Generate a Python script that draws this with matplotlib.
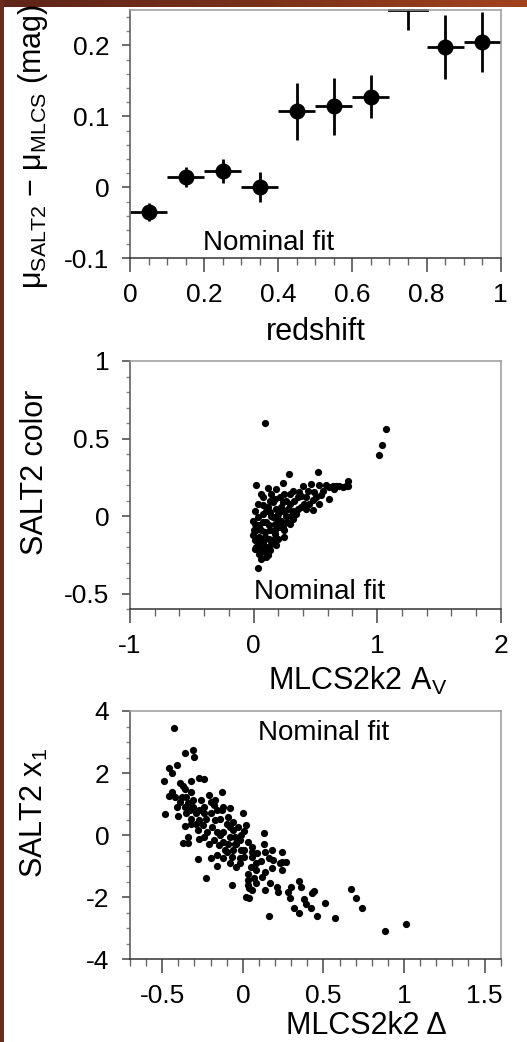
import matplotlib
matplotlib.use('Agg')
import matplotlib.pyplot as plt
import numpy as np
from matplotlib.ticker import MultipleLocator, FuncFormatter
from matplotlib.colors import LinearSegmentedColormap

plt.rcParams['font.family'] = ['Liberation Sans', 'DejaVu Sans']
plt.rcParams['mathtext.fontset'] = 'custom'
plt.rcParams['mathtext.rm'] = 'Liberation Sans'
plt.rcParams['mathtext.it'] = 'Liberation Sans:italic'
plt.rcParams['axes.unicode_minus'] = False

#panel 1: binned distance modulus difference vs redshift
z_bin = [0.05, 0.15, 0.25, 0.35, 0.45, 0.55, 0.65, 0.75, 0.85, 0.95]
z_halfwidth = [0.05] * 10
dmu = [-0.035, 0.014, 0.023, 0.001, 0.107, 0.114, 0.128, 0.272, 0.198, 0.205]
dmu_err = [0.013, 0.014, 0.017, 0.021, 0.040, 0.040, 0.030, 0.050, 0.045, 0.042]

#panel 2: MLCS2k2 A_V vs SALT2 color
av = [0.089, 1.071, 1.039, 1.018, 0.035, 0.520, 0.285, 0.767, 0.748, 0.614,
      0.022, 0.062, 0.116, 0.237, 0.183, 0.398, 0.466, 0.533, 0.587, 0.641,
      0.694, 0.721, 0.546, 0.479, 0.479, 0.412, 0.358, 0.345, 0.318, 0.291,
      0.250, 0.237, 0.183, 0.116, 0.075, 0.008, 0.000, 0.008, 0.075, 0.129,
      0.210, 0.264, 0.371, 0.439, 0.493, 0.654, 0.762, 0.425, 0.452, 0.385,
      0.291, 0.318, 0.264, 0.223, 0.250, 0.210, 0.170, 0.156, 0.102, 0.048,
      0.022, -0.005, 0.008, 0.035, 0.075, 0.116, 0.156, 0.183, 0.143, 0.102,
      0.062, 0.089, 0.129, 0.170, 0.075, 0.048, 0.035, 0.129, 0.089, -0.005,
      0.022, 0.102, 0.196, 0.237, 0.291, 0.331, 0.385, 0.506, 0.560, 0.614,
      0.668, 0.533, 0.425, 0.358, 0.277, 0.223, 0.143, 0.170, 0.250, 0.318,
      0.075, 0.035, 0.237, 0.196, 0.143, 0.062, 0.102, 0.008, 0.269, 0.304,
      0.156, 0.196, 0.124, 0.089, 0.048, 0.124, 0.075, 0.048, 0.170, 0.129]
color = [0.598, 0.560, 0.457, 0.395, -0.331, 0.282, 0.271, 0.226, 0.197, 0.111,
         0.201, 0.143, 0.179, 0.214, 0.173, 0.197, 0.207, 0.201, 0.201, 0.197,
         0.197, 0.186, 0.137, 0.105, 0.041, 0.079, 0.122, 0.015, 0.036, -0.049,
         -0.092, 0.036, -0.188, -0.252, -0.209, -0.156, -0.092, 0.032, 0.075, 0.100,
         0.122, 0.100, 0.154, 0.165, 0.154, 0.175, 0.197, 0.122, 0.079, 0.058,
         0.079, -0.017, 0.004, -0.028, -0.135, -0.071, -0.113, -0.156, -0.199, -0.241,
         -0.199, -0.124, -0.049, -0.006, 0.015, 0.058, 0.090, 0.047, 0.004, -0.038,
         -0.092, -0.135, -0.092, -0.049, -0.038, -0.135, -0.167, -0.220, -0.231, -0.028,
         -0.092, 0.036, 0.015, 0.090, 0.143, 0.100, 0.132, 0.122, 0.165, 0.186,
         0.197, 0.079, 0.047, 0.047, 0.047, 0.058, 0.143, 0.111, 0.143, 0.165,
         0.122, 0.079, -0.071, -0.145, -0.177, -0.274, -0.263, -0.209, -0.038, 0.004,
         -0.006, -0.017, -0.060, -0.103, -0.060, -0.145, -0.167, -0.199, -0.092, 0.026]

#panel 3: MLCS2k2 Delta vs SALT2 x1
delta = [-0.43, -0.36, -0.31, -0.30, -0.46, -0.44, -0.41, -0.49, -0.48, -0.46,
         -0.44, -0.41, -0.40, -0.39, -0.37, -0.36, -0.32, -0.27, -0.24, -0.36,
         -0.32, -0.37, -0.34, -0.34, -0.28, -0.23, -0.20, -0.16, -0.07, -0.13,
         -0.17, -0.21, -0.08, 0.00, 0.02, 0.01, 0.13, 0.13, 0.18, 0.24,
         0.27, 0.24, 0.18, 0.14, 0.16, 0.17, 0.14, 0.21, 0.22, 0.28,
         0.30, 0.29, 0.32, 0.35, 0.36, 0.35, 0.38, 0.39, 0.42, 0.43,
         0.44, 0.46, 0.51, 0.57, 0.67, 0.70, 0.74, 0.88, 1.01, 0.03,
         0.04, 0.02, 0.04, 0.06, 0.03, 0.07, 0.08, 0.03, 0.08, 0.09,
         0.06, 0.11, 0.16, 0.06, 0.01, -0.02, -0.04, -0.02, -0.08, -0.12,
         -0.10, -0.06, -0.04, 0.03, -0.05, -0.03, -0.09, -0.13, -0.14, -0.18,
         -0.20, -0.24, -0.26, -0.23, -0.27, -0.29, -0.31, -0.34, -0.33, -0.36,
         -0.38, -0.35, -0.32, -0.31, -0.28, -0.27, -0.24, -0.21, -0.18, -0.16,
         -0.19, -0.25, -0.17, -0.14, -0.12, -0.09, -0.08, -0.06, -0.05, -0.01,
         -0.12, -0.15, -0.11, -0.16, -0.07, -0.01, 0.05, 0.12, -0.02, 0.01,
         -0.06, -0.10, -0.22, -0.29, -0.32, -0.35, -0.39, -0.42, -0.27, -0.24,
         -0.20, -0.16, -0.12, -0.08, 0.14, 0.06, 0.08, 0.19, 0.23, 0.24]
x1 = [3.44, 2.65, 2.74, 2.51, 2.15, 2.01, 2.26, 1.73, 0.68, 1.26,
      1.39, 0.91, 0.61, 1.69, 1.58, 1.50, 1.74, 1.85, 1.82, 0.30,
      0.35, -0.24, -0.24, -0.05, -0.76, -1.39, -0.75, -0.98, -1.60, 1.39,
      1.12, 1.30, 0.88, 0.70, 0.33, 0.14, 0.07, -0.30, -0.48, -0.53,
      -0.88, -1.12, -1.06, -1.18, -2.62, -1.53, -1.76, -1.66, -1.82, -1.84,
      -1.68, -2.03, -2.34, -1.47, -1.66, -2.51, -2.06, -2.22, -2.35, -1.85,
      -1.79, -2.59, -2.19, -2.67, -1.75, -2.01, -2.35, -3.08, -2.86, -1.44,
      -1.71, -1.98, -2.03, -1.76, -1.60, -1.39, -1.12, -1.25, -0.91, -0.59,
      -0.70, -0.82, -0.75, -0.37, -0.48, -0.75, -1.02, -0.91, -0.91, -0.75,
      -0.53, -0.48, -0.30, -0.21, -0.05, 0.27, 0.59, 0.80, 0.53, 0.96,
      0.70, 0.91, 1.12, 0.53, 0.48, 0.70, 0.91, 1.02, 0.80, 0.91,
      1.23, 1.23, 1.39, 1.12, 0.16, -0.11, -0.05, -0.27, -0.16, 0.11,
      0.27, 0.32, 0.48, 0.00, -0.21, -0.27, -0.05, 0.16, -0.27, 0.00,
      0.11, -0.32, -0.48, -0.64, -0.70, -0.48, -1.02, -1.34, -0.16, -0.70,
      0.43, 0.37, 0.11, 0.37, 0.53, 0.70, 1.07, 1.23, 0.80, 0.70,
      1.07, 0.80, 0.91, 0.27, -0.53, -0.53, -1.55, -0.80, -0.91, -0.86]

fig = plt.figure(figsize=(5.27, 10.42), dpi=100)
fig.patch.set_facecolor('white')

#brown frame along the top and left edges
band = fig.add_axes([0, 1 - 7/1042, 1, 7/1042])
band_cmap = LinearSegmentedColormap.from_list('band', ['#5e2519', '#7a3119', '#a2431f'])
band.imshow(np.linspace(0, 1, 256)[None, :], aspect='auto', cmap=band_cmap, extent=[0, 1, 0, 1])
band.set_axis_off()
side = fig.add_axes([0, 0, 4/527, 1])
side.set_facecolor('#6b2c1b')
side.set_xticks([])
side.set_yticks([])
for s in side.spines.values():
    s.set_visible(False)

def style_axes(ax, xmaj, xmin, ymaj, ymin):
    ax.xaxis.set_major_locator(MultipleLocator(xmaj))
    ax.xaxis.set_minor_locator(MultipleLocator(xmin))
    ax.yaxis.set_major_locator(MultipleLocator(ymaj))
    ax.yaxis.set_minor_locator(MultipleLocator(ymin))
    fmt = FuncFormatter(lambda v, p: '%g' % round(v, 6))
    ax.xaxis.set_major_formatter(fmt)
    ax.yaxis.set_major_formatter(fmt)
    ax.tick_params(axis='x', which='major', direction='out', length=10, width=1.1,
                   color='#444444', labelsize=19, pad=8)
    ax.tick_params(axis='x', which='minor', direction='out', length=5, width=1.0, color='#666666')
    ax.tick_params(axis='y', which='major', direction='out', length=6, width=1.1,
                   color='#444444', labelsize=19, pad=9)
    ax.tick_params(axis='y', which='minor', direction='out', length=3, width=1.0, color='#888888')
    ax.spines['left'].set_color('#555555')
    ax.spines['bottom'].set_color('#333333')
    ax.spines['top'].set_color('#9a9a9a')
    ax.spines['right'].set_color('#9a9a9a')
    for s in ax.spines.values():
        s.set_linewidth(1.1)

w = 370.7 / 527
h = 248.3 / 1042
left = 130 / 527

#top panel
ax1 = fig.add_axes([left, (1042 - 258.3) / 1042, w, h])
ax1.errorbar(z_bin, dmu, xerr=z_halfwidth, yerr=dmu_err, fmt='o', color='black',
             ms=10.5, elinewidth=2, capsize=0)
ax1.set_xlim(0, 1)
ax1.set_ylim(-0.1, 0.25)
#bins above the top edge keep their horizontal bar on the frame, as in the paper figure
ytop = ax1.get_ylim()[1]
for zc, hw, d in zip(z_bin, z_halfwidth, dmu):
    if d > ytop:
        ax1.plot([zc - hw, zc + hw], [ytop, ytop], color='black', lw=2, clip_on=False)
style_axes(ax1, 0.2, 0.05, 0.1, 0.02)
ax1.text(0.375, -0.0785, 'Nominal fit', ha='center', va='center', fontsize=20)
ax1.set_xlabel('redshift', fontsize=22)
ax1.xaxis.set_label_coords(0.5, -0.235)
ax1.set_ylabel('μ$_{\\mathrm{SALT2}}$ − μ$_{\\mathrm{MLCS}}$ (mag)', fontsize=22)
ax1.yaxis.set_label_coords(-0.215, 0.45)

#middle panel
ax2 = fig.add_axes([left, (1042 - 609.3) / 1042, w, h])
ax2.scatter(av, color, s=27, color='black', linewidths=0)
ax2.set_xlim(-1, 2)
ax2.set_ylim(-0.6, 1.0)
style_axes(ax2, 1, 0.2, 0.5, 0.1)
ax2.text(0.533, -0.487, 'Nominal fit', ha='center', va='center', fontsize=20)
ax2.set_xlabel('MLCS2k2 A$_{\\mathrm{V}}$', fontsize=22)
ax2.xaxis.set_label_coords(0.615, -0.225)
ax2.set_ylabel('SALT2 color', fontsize=22)
ax2.yaxis.set_label_coords(-0.215, 0.55)

#bottom panel
ax3 = fig.add_axes([left, (1042 - 959.3) / 1042, w, h])
ax3.scatter(delta, x1, s=27, color='black', linewidths=0)
ax3.set_xlim(-0.7, 1.6)
ax3.set_ylim(-4, 4)
style_axes(ax3, 0.5, 0.1, 2, 0.5)
ax3.text(0.5, 3.3, 'Nominal fit', ha='center', va='center', fontsize=20)
ax3.set_xlabel('MLCS2k2 Δ', fontsize=22)
ax3.xaxis.set_label_coords(0.637, -0.21)
ax3.set_ylabel('SALT2 x$_{\\mathrm{1}}$', fontsize=22)
ax3.yaxis.set_label_coords(-0.215, 0.59)

fig.savefig('out.png', dpi=100)
